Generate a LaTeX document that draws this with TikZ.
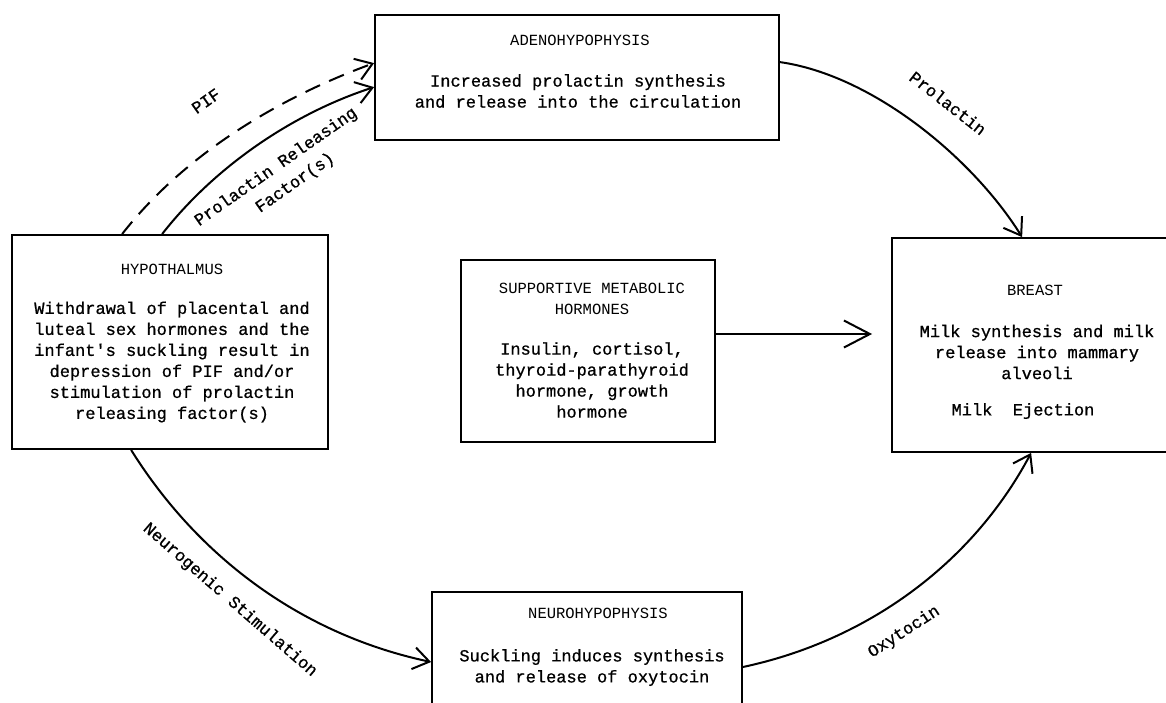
\documentclass[tikz,border=0pt]{standalone}
\usepackage{fontspec}
\newfontfamily\tw{Liberation Mono}
\newfontfamily\twb[FakeBold=0.8]{Liberation Mono}
\usetikzlibrary{arrows.meta}
\tikzset{
  box/.style={draw, line width=1.8pt, inner sep=0pt},
  body/.style={font=\twb\fontsize{17}{21}\selectfont, align=center, inner sep=0pt},
  hdr/.style={font=\tw\fontsize{15.5}{21}\selectfont, align=center, inner sep=0pt},
  lbl/.style={font=\twb\fontsize{17}{24}\selectfont, align=center, inner sep=0pt},
  conn/.style={line width=2pt, -{Straight Barb[length=16pt,width=22pt,line width=2pt]}},
  bigconn/.style={line width=2pt, -{Straight Barb[length=26pt,width=27pt,line width=2pt]}},
  pifline/.style={dash pattern=on 16pt off 10pt}
}
\begin{document}
\begin{tikzpicture}[x=1pt,y=-1pt]
\useasboundingbox (0,0) rectangle (1166,702);
\fill[white] (0,0) rectangle (1166,702);
\clip (0,0) rectangle (1166,702);

% boxes
\node[box, minimum width=404pt, minimum height=125pt] (adeno) at (577,77.5) {};
\node[box, minimum width=316pt, minimum height=214pt] (hyp) at (170,342) {};
\node[box, minimum width=254pt, minimum height=182pt] (supp) at (588,351) {};
\node[box, minimum width=288pt, minimum height=214pt] (breast) at (1036,345) {};
\node[box, minimum width=310pt, minimum height=144pt] (neuro) at (587,664) {};

% texts
\node[hdr] (adenoh) at (580,40) {ADENOHYPOPHYSIS};
\node[body] (adenot) at (578,91) {Increased prolactin synthesis\\and release into the circulation};

\node[hdr] (hyph) at (172,269) {HYPOTHALMUS};
\node[body] (hypt) at (172,362) {Withdrawal of placental and\\luteal sex hormones and the\\infant's suckling result in\\depression of PIF and/or\\stimulation of prolactin\\releasing factor(s)};

\node[hdr] (supph) at (592,299) {SUPPORTIVE METABOLIC\\HORMONES};
\node[body] (suppt) at (592,380) {Insulin, cortisol,\\thyroid-parathyroid\\hormone, growth\\hormone};

\node[hdr] (breasth) at (1035,290) {BREAST};
\node[body] (breastt) at (1037,352) {Milk synthesis and milk\\release into mammary\\alveoli};
\node[body] (breaste) at (1023,411) {Milk\ \ Ejection};

\node[hdr] (neuroh) at (598,613) {NEUROHYPOPHYSIS};
\node[body] (neurot) at (592,667.5) {Suckling induces synthesis\\and release of oxytocin};

% connectors
\draw[conn, pifline] ([xshift=111pt]hyp.north west) to[out=52,in=200,looseness=0.85] ([yshift=-49pt]adeno.north west);
\draw[conn] ([xshift=151pt]hyp.north west) to[out=52,in=198,looseness=0.85] ([yshift=-73pt]adeno.north west);
\draw[conn] ([yshift=-48pt]adeno.north east) to[out=-8,in=122,looseness=0.8] ([xshift=131pt]breast.north west);
\draw[bigconn, shorten >=19pt] ([yshift=17pt]supp.east) -- ([yshift=11pt]breast.west);
\draw[conn] ([xshift=120pt]hyp.south west) to[out=-58,in=168,looseness=0.9] ([yshift=2pt]neuro.west);
\draw[conn] ([yshift=-3pt]neuro.east) to[out=12,in=242,looseness=0.9] ([xshift=140pt]breast.south west);

% connector labels
\node[lbl, rotate=35] (lpif) at (206,101) {PIF};
\node[lbl, rotate=35] (lprf) at (283,177) {Prolactin Releasing\\\hspace*{13pt}Factor(s)};
\node[lbl, rotate=-38] (lprl) at (948,103) {Prolactin};
\node[lbl, rotate=-41] (lneu) at (230,600) {Neurogenic Stimulation};
\node[lbl, rotate=33] (loxy) at (904,632) {Oxytocin};
\end{tikzpicture}
\end{document}
